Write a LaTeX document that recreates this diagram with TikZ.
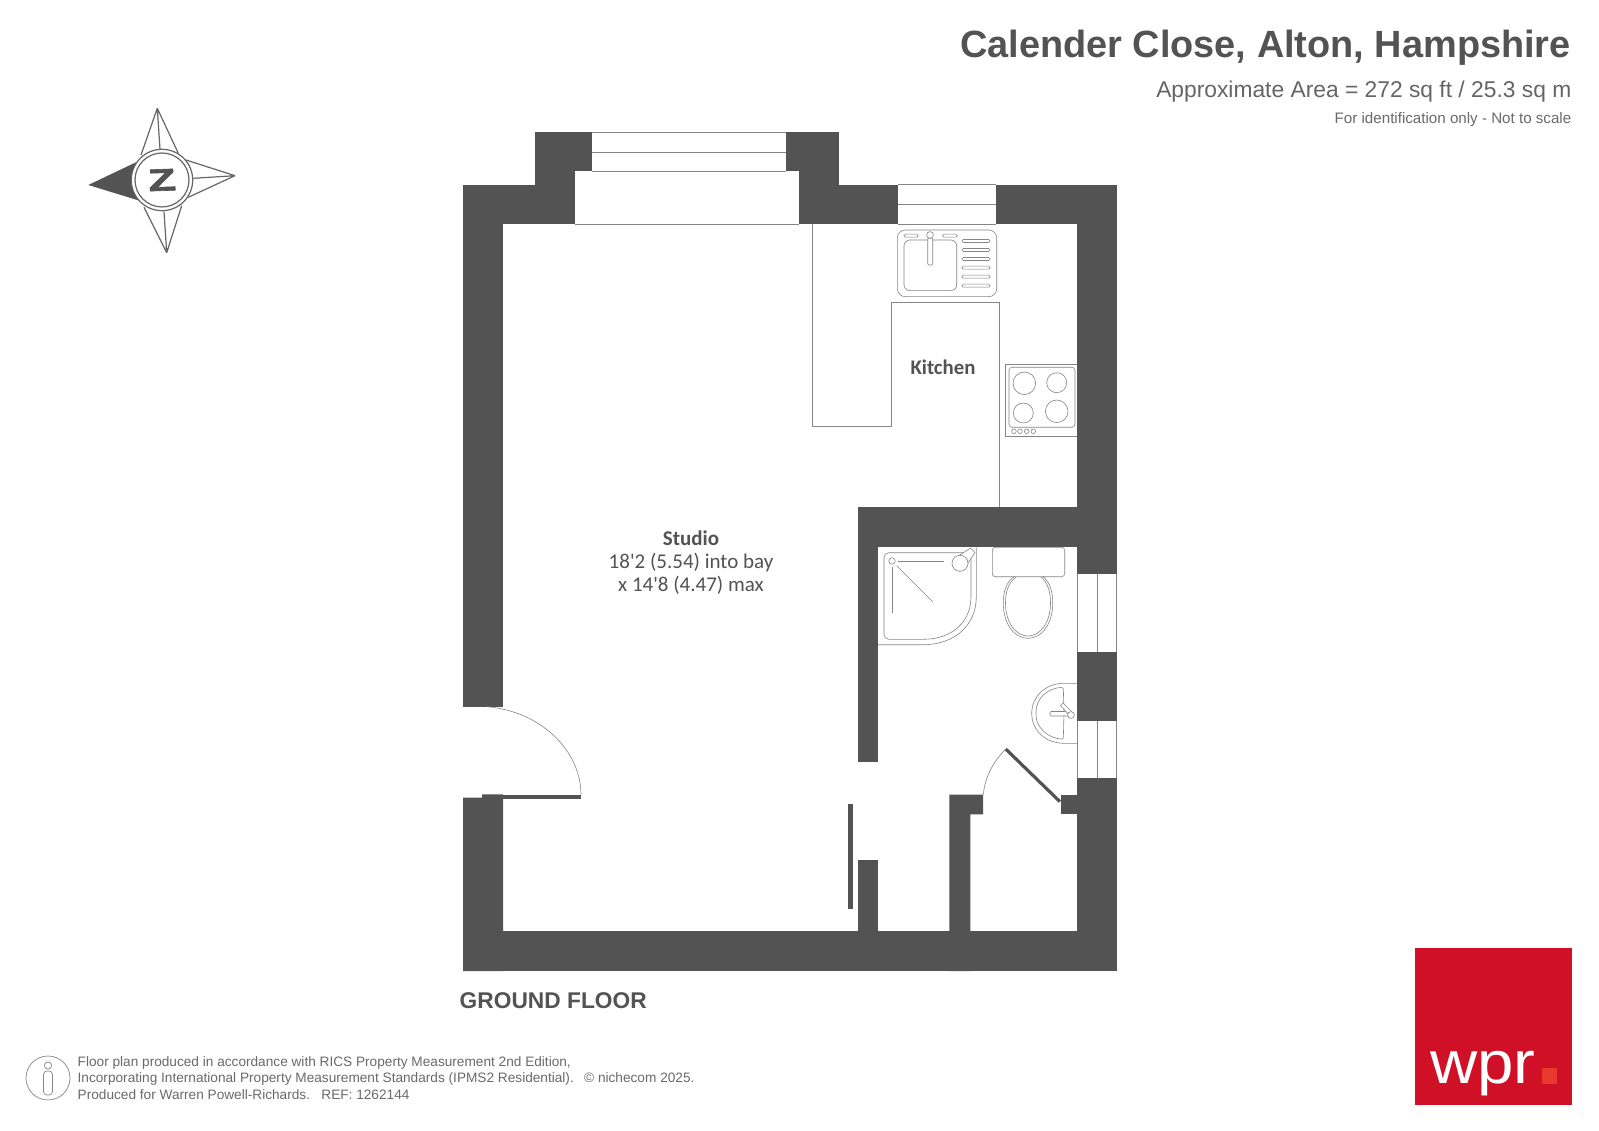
\documentclass[tikz,border=0pt]{standalone}
\usepackage{fontspec}
\setmainfont{Liberation Sans}
\newfontfamily\carlito{Carlito}
\definecolor{wallc}{HTML}{535353}
\definecolor{linec}{HTML}{858585}
\definecolor{compassc}{HTML}{666666}
\definecolor{textc}{HTML}{6A6A6A}
\definecolor{logored}{HTML}{D01027}
\definecolor{logosq}{HTML}{E8392F}
\tikzset{
  wall/.style={fill=wallc,draw=none},
  thin line/.style={draw=linec,line width=0.8pt},
  fixture/.style={draw=linec,line width=0.6pt},
  compass/.style={draw=compassc,line width=1.2pt},
  label/.style={inner sep=0pt,text=wallc},
  roomname/.style={label,align=center,font=\carlito\fontsize{21}{22.8}\selectfont},
  footer/.style={inner sep=0pt,anchor=base west,text=textc,font=\fontsize{13.65}{13.65}\selectfont},
}
\begin{document}
\begin{tikzpicture}[x=1pt,y=-1pt]
\useasboundingbox (0,0) rectangle (1599,1131);
\fill[white] (0,0) rectangle (1599,1131);
% walls
\fill[wall] (463,184.7) rectangle (575,224.5);
\fill[wall] (535.4,132.5) rectangle (591.5,171.5);
\fill[wall] (535.4,171) rectangle (575,224.5);
\fill[wall] (786.2,132.5) rectangle (839.3,171.5);
\fill[wall] (798.5,171) rectangle (839.3,224.5);
\fill[wall] (839,184.7) rectangle (898.4,224.5);
\fill[wall] (995.5,184.7) rectangle (1116.7,224.5);
\fill[wall] (463,184.7) rectangle (503,706.7);
\fill[wall] (463,797.7) -- (482,797.7) -- (482,794.3) -- (503,794.3) -- (503,971) -- (463,971) -- cycle;
\fill[wall] (463,931.3) rectangle (1116.7,971);
\fill[wall] (1077.3,184.7) rectangle (1116.7,574);
\fill[wall] (1077.3,651.7) rectangle (1116.7,720.7);
\fill[wall] (1077.3,778.3) rectangle (1116.7,971);
\fill[wall] (858.3,507.3) rectangle (1116.7,547.3);
\fill[wall] (858.3,507.3) rectangle (878,762);
\fill[wall] (858.3,860) rectangle (878,971);
\fill[wall] (949.3,794.7) -- (983,794.7) -- (983,814.3) -- (970.3,814.3) -- (970.3,971) -- (949.3,971) -- cycle;
\fill[wall] (1060.7,794.7) rectangle (1078,814.3);
% door leaves
\fill[wall] (482,794.5) rectangle (581,799);
\fill[wall] (848,804.3) rectangle (853,909.3);
\draw[wallc,line width=3.2pt] (1005.7,749) -- (1060,801.7);
\draw[thin line,line width=0.6pt] (486.7,706.7) .. controls (540,711) and (581,750) .. (581,795);
\draw[thin line,line width=0.6pt] (983.3,794.7) .. controls (985,775) and (995,760) .. (1005.7,749);
% windows
\draw[thin line] (591.5,132.5) -- (786.2,132.5) (591.5,171.5) -- (786.2,171.5) (591.5,152.2) -- (786.2,152.2);
\draw[thin line] (575,224.5) -- (798.5,224.5);
\draw[thin line] (898.4,184.7) -- (995.5,184.7) (898.4,204.5) -- (995.5,204.5) (898.4,224.5) -- (995.5,224.5);
\draw[thin line] (1077.3,574) -- (1077.3,651.7) (1097.3,574) -- (1097.3,651.7) (1116.7,574) -- (1116.7,651.7);
\draw[thin line] (1077.3,720.7) -- (1077.3,778.3) (1097.3,720.7) -- (1097.3,778.3) (1116.7,720.7) -- (1116.7,778.3);
% kitchen units
\draw[thin line] (812.7,224.5) -- (812.7,426.7) -- (891.7,426.7) -- (891.7,302.7) -- (999,302.7) -- (999,507.3);
% sink
\draw[fixture,rounded corners=8pt] (897.3,230) rectangle (996.7,296.7);
\draw[fixture,rounded corners=6pt] (904,240) rectangle (956.7,290.7);
\draw[fixture,fill=white,rounded corners=1pt] (927.7,238) rectangle (932.7,265);
\draw[fixture,fill=white] (930,235) circle[radius=3.4pt];
\draw[fixture,rounded corners=1.3pt] (904,234.2) rectangle (918,237.2);
\draw[fixture,rounded corners=1.3pt] (942.7,234.2) rectangle (957.3,237.2);
\foreach \sy in {241,250,259,267.7,276.7,285.7}{
  \draw[fixture,rounded corners=1.3pt] (962,\sy-1.5) rectangle (990,\sy+1.5);
}
% hob
\draw[thin line] (1077.3,364.3) -- (1005.3,364.3) -- (1005.3,436.7) -- (1077.3,436.7);
\draw[fixture,rounded corners=3pt] (1009,367.3) rectangle (1075,427.3);
\draw[fixture] (1024.3,383.3) circle[radius=11.3pt];
\draw[fixture] (1056.7,382.7) circle[radius=10pt];
\draw[fixture] (1023.3,413) circle[radius=10pt];
\draw[fixture] (1056.7,411.3) circle[radius=11.3pt];
\foreach \kx in {1014,1020,1026.7,1033.3}{
  \draw[fixture] (\kx,431.3) circle[radius=2.3pt];
}
% shower
\draw[fixture] (878,644.7) -- (923.3,644.7) .. controls (955,644.7) and (976.3,625) .. (976.3,596.7) -- (976.3,547.3);
\draw[fixture,rounded corners=5pt] (971,552.7) -- (884,552.7) -- (884,639.3) -- (923.3,639.3);
\draw[fixture] (923.3,639.3) .. controls (952,639.3) and (971,622) .. (971,596.7) -- (971,552.7);
\draw[fixture] (892,561) circle[radius=3.2pt];
\draw[fixture] (898.3,561) -- (944,561);
\draw[fixture] (892.3,566.7) -- (892.3,612.7);
\draw[fixture] (896.7,565.7) -- (932.7,601.7);
\draw[fixture,fill=white] (957,557) -- (970.5,548) -- (975,552.5) -- (966,566) -- cycle;
\draw[fixture,fill=white] (960,563.3) circle[radius=8pt];
% WC
\draw[fixture,rounded corners=3pt] (992.3,547.3) rectangle (1064.7,576.7);
\draw[fixture] (1014,576.7) .. controls (1006,582) and (1003.3,592) .. (1003.3,603) .. controls (1003.3,625) and (1015,638.3) .. (1028,638.3) .. controls (1041,638.3) and (1052.7,625) .. (1052.7,603) .. controls (1052.7,592) and (1050,582) .. (1043,576.7);
\draw[fixture] (1016,577) .. controls (1008,583) and (1005.5,592) .. (1005.5,603) .. controls (1005.5,623) and (1016,636) .. (1028,636) .. controls (1040,636) and (1050.5,623) .. (1050.5,603) .. controls (1050.5,592) and (1048,583) .. (1041,577);
% basin
\draw[fixture] (1077.3,683.3) -- (1064,683.3) .. controls (1045,683.3) and (1031.7,697) .. (1031.7,713.3) .. controls (1031.7,730) and (1045,743.3) .. (1064,743.3) -- (1077.3,743.3);
\draw[fixture,rounded corners=1.5pt] (1063.3,687.3) .. controls (1047,688) and (1036,699) .. (1036,713.3) .. controls (1036,727) and (1047,738) .. (1063.3,739.3) -- (1064,713) -- cycle;
\draw[fixture,fill=white,rounded corners=1pt] (1050,711.5) rectangle (1070,716);
\draw[fixture,fill=white] (1060.5,705.5) -- (1063,703) -- (1073,713) -- (1070,716) -- cycle;
\draw[fixture,fill=white] (1071,715) circle[radius=3.4pt];
% compass
\draw[compass] (157.3,108.3) -- (141,155) (157.3,108.3) -- (178.3,153.3) (157.3,108.3) -- (160,149.3);
\draw[compass] (235,175.7) -- (186,160) (235,175.7) -- (188.3,197.3) (235,175.7) -- (193.3,178.3);
\draw[compass] (166.7,252.7) -- (144,207.3) (166.7,252.7) -- (181.7,205.7) (166.7,252.7) -- (164,211.7);
\fill[wall] (88.3,185) -- (145,158) -- (145,202.4) -- cycle;
\draw[compass,fill=white] (162,180) circle[radius=30.7pt];
\draw[compass,fill=white] (162,180) circle[radius=27pt];
\node[label,font=\bfseries\addfontfeature{FakeBold=2}\fontsize{31}{31}\selectfont,xscale=1.45,rotate=3] (north) at (162,180) {Z};
% title block
\node[label,anchor=base east,font=\bfseries\fontsize{37.9}{38}\selectfont] (title) at (1571,58) {Calender Close, Alton, Hampshire};
\node[label,anchor=base east,text=textc!80!wallc,font=\fontsize{22.8}{23}\selectfont] (area) at (1571.5,98) {Approximate Area = 272 sq ft / 25.3 sq m};
\node[label,anchor=base east,text=textc,font=\fontsize{15.15}{15.15}\selectfont] (note) at (1571.5,124) {For identification only - Not to scale};
% rooms
\node[label,anchor=base,font=\carlito\bfseries\fontsize{20.8}{23}\selectfont] (kitchen) at (943,375) {Kitchen};
\node[roomname,anchor=center] (studio) at (691,562.5) {{\bfseries Studio}\\18'2 (5.54) into bay\\x 14'8 (4.47) max};
\node[label,anchor=base west,font=\bfseries\fontsize{22.75}{23.5}\selectfont] (floor) at (459.5,1008) {GROUND FLOOR};
% footer
\draw[linec,line width=0.7pt] (48,1078) circle[radius=22pt];
\draw[linec,line width=0.7pt] (48,1065.5) circle[radius=3.6pt];
\draw[linec,line width=0.7pt,rounded corners=3.5pt] (43.5,1071) rectangle (52.5,1095);
\node[footer] (fa) at (77.5,1066.5) {Floor plan produced in accordance with RICS Property Measurement 2nd Edition,};
\node[footer] (fb) at (77.5,1082.7) {Incorporating International Property Measurement Standards (IPMS2 Residential).};
\node[footer] (fc) at (77.5,1099) {Produced for Warren Powell-Richards.\ \ \ REF: 1262144};
\node[footer] (fd) at (584,1082.7) {© nichecom 2025.};
% logo
\fill[logored] (1415,947.7) rectangle (1572.3,1105);
\fill[logosq] (1541.7,1068.3) rectangle (1557,1083.7);
\node[inner sep=0pt,anchor=base west,text=white,xscale=1.09,font=\fontsize{60}{60}\selectfont] (wpr) at (1430,1083.3) {wpr};
\end{tikzpicture}
\end{document}
